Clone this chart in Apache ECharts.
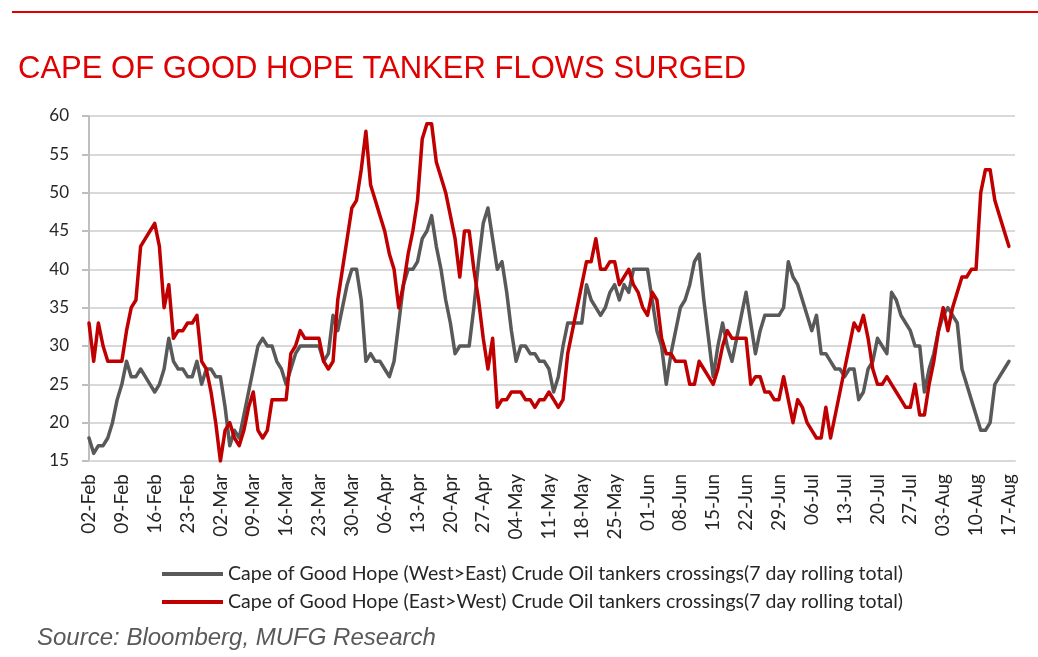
<!DOCTYPE html>
<html lang="en">
<head>
  <meta charset="UTF-8">
  <title>Cape of Good Hope tanker flows</title>
  <script src="https://cdn.jsdelivr.net/npm/echarts@6/dist/echarts.min.js"></script>
  <style>
    html, body, #main {
      margin: 0;
      padding: 0;
      width: 100%;
      height: 100%;
      background: #fff;
    }
  </style>
</head>
<body>
  <div id="main"></div>

  <script>
    // daily 7 day rolling totals, 02-Feb to 17-Aug (one value per day)
    const westToEast = [
      18, 16, 17, 17, 18, 20, 23, 25, 28, 26, 26, 27, 26, 25, 24, 25, 27, 31, 28, 27,
      27, 26, 26, 28, 25, 27, 27, 26, 26, 22, 17, 19, 18, 21, 24, 27, 30, 31, 30, 30,
      28, 27, 25, 27, 29, 30, 30, 30, 30, 30, 28, 29, 34, 32, 35, 38, 40, 40, 36, 28,
      29, 28, 28, 27, 26, 28, 33, 38, 40, 40, 41, 44, 45, 47, 43, 40, 36, 33, 29, 30,
      30, 30, 35, 41, 46, 48, 44, 40, 41, 37, 32, 28, 30, 30, 29, 29, 28, 28, 27, 24,
      26, 30, 33, 33, 33, 33, 38, 36, 35, 34, 35, 37, 38, 36, 38, 37, 40, 40, 40, 40,
      36, 32, 30, 25, 29, 32, 35, 36, 38, 41, 42, 36, 31, 26, 30, 33, 30, 28, 31, 34,
      37, 33, 29, 32, 34, 34, 34, 34, 35, 41, 39, 38, 36, 34, 32, 34, 29, 29, 28, 27,
      27, 26, 27, 27, 23, 24, 27, 28, 31, 30, 29, 37, 36, 34, 33, 32, 30, 30, 24, 27,
      29, 32, 34, 35, 34, 33, 27, 25, 23, 21, 19, 19, 20, 25, 26, 27, 28
    ];
    const eastToWest = [
      33, 28, 33, 30, 28, 28, 28, 28, 32, 35, 36, 43, 44, 45, 46, 43, 35, 38, 31, 32,
      32, 33, 33, 34, 28, 27, 24, 20, 15, 19, 20, 18, 17, 19, 22, 24, 19, 18, 19, 23,
      23, 23, 23, 29, 30, 32, 31, 31, 31, 31, 28, 27, 28, 36, 40, 44, 48, 49, 53, 58,
      51, 49, 47, 45, 42, 40, 35, 38, 42, 45, 49, 57, 59, 59, 54, 52, 50, 47, 44, 39,
      45, 45, 40, 36, 31, 27, 31, 22, 23, 23, 24, 24, 24, 23, 23, 22, 23, 23, 24, 23,
      22, 23, 29, 32, 35, 38, 41, 41, 44, 40, 40, 41, 41, 38, 39, 40, 38, 37, 35, 34,
      37, 36, 31, 29, 29, 28, 28, 28, 25, 25, 28, 27, 26, 25, 27, 30, 32, 31, 31, 31,
      31, 25, 26, 26, 24, 24, 23, 23, 26, 23, 20, 23, 22, 20, 19, 18, 18, 22, 18, 21,
      24, 27, 30, 33, 32, 34, 31, 27, 25, 25, 26, 25, 24, 23, 22, 22, 25, 21, 21, 25,
      28, 32, 35, 32, 35, 37, 39, 39, 40, 40, 50, 53, 53, 49, 47, 45, 43
    ];
    const weekLabels = [
      '02-Feb', '09-Feb', '16-Feb', '23-Feb', '02-Mar', '09-Mar', '16-Mar', '23-Mar',
      '30-Mar', '06-Apr', '13-Apr', '20-Apr', '27-Apr', '04-May', '11-May', '18-May',
      '25-May', '01-Jun', '08-Jun', '15-Jun', '22-Jun', '29-Jun', '06-Jul', '13-Jul',
      '20-Jul', '27-Jul', '03-Aug', '10-Aug', '17-Aug'
    ];
    const seriesNames = [
      'Cape of Good Hope (West>East) Crude Oil tankers crossings(7 day rolling total)',
      'Cape of Good Hope (East>West) Crude Oil tankers crossings(7 day rolling total)'
    ];

    const chart = echarts.init(document.getElementById('main'));

    const toPairs = arr => arr.map((v, i) => [i, v]);
    const labelFont = 'Lato, "Noto Sans", sans-serif';

    const option = {
      animation: false,
      backgroundColor: '#fff',
      title: [{
        text: 'CAPE OF GOOD HOPE TANKER FLOWS SURGED',
        left: 18,
        top: 54,
        padding: 0,
        textStyle: {
          color: '#e00000',
          fontSize: 31,
          fontWeight: 'normal',
          fontFamily: '"Liberation Sans", Arial, sans-serif'
        }
      }, {
        text: 'Source: Bloomberg, MUFG Research',
        left: 37,
        top: 626,
        padding: 0,
        textStyle: {
          color: '#595959',
          fontSize: 24,
          fontStyle: 'italic',
          fontWeight: 'normal',
          fontFamily: '"Liberation Sans", Arial, sans-serif'
        }
      }],
      graphic: [{
        type: 'line',
        shape: { x1: 12, y1: 12, x2: 1038, y2: 12 },
        style: { stroke: '#e00000', lineWidth: 2 }
      }],
      legend: {
        orient: 'vertical',
        left: 162,
        top: 563,
        padding: 0,
        icon: 'rect',
        itemWidth: 61,
        itemHeight: 4,
        itemGap: 6,
        textStyle: {
          color: '#262626',
          fontSize: 19.5,
          lineHeight: 22,
          fontFamily: labelFont
        },
        data: seriesNames
      },
      grid: {
        left: 89,
        top: 116,
        width: 926,
        height: 345
      },
      xAxis: {
        type: 'value',
        min: 0,
        max: 197.3,
        interval: 7,
        axisLine: { show: true, lineStyle: { color: '#d9d9d9', width: 2 } },
        axisTick: { show: false },
        splitLine: { show: false },
        axisLabel: {
          rotate: 90,
          margin: 13,
          color: '#262626',
          fontSize: 19,
          fontFamily: labelFont,
          showMaxLabel: false,
          formatter: v => (v % 7 === 0 && weekLabels[v / 7]) ? weekLabels[v / 7] : ''
        }
      },
      yAxis: {
        type: 'value',
        min: 15,
        max: 60,
        interval: 5,
        axisLine: { show: true, lineStyle: { color: '#bfbfbf', width: 2 } },
        axisTick: { show: true, length: 7, lineStyle: { color: '#bfbfbf', width: 2 } },
        splitLine: { lineStyle: { color: '#d9d9d9', width: 2 } },
        axisLabel: {
          margin: 20,
          color: '#262626',
          fontSize: 17,
          fontFamily: labelFont
        }
      },
      series: [{
        name: seriesNames[0],
        type: 'line',
        symbol: 'none',
        itemStyle: { color: '#595959' },
        lineStyle: { color: '#595959', width: 3.5, join: 'round', cap: 'round' },
        data: toPairs(westToEast)
      }, {
        name: seriesNames[1],
        type: 'line',
        symbol: 'none',
        itemStyle: { color: '#c00000' },
        lineStyle: { color: '#c00000', width: 3.5, join: 'round', cap: 'round' },
        data: toPairs(eastToWest)
      }]
    };

    chart.setOption(option);
  </script>
</body>
</html>
